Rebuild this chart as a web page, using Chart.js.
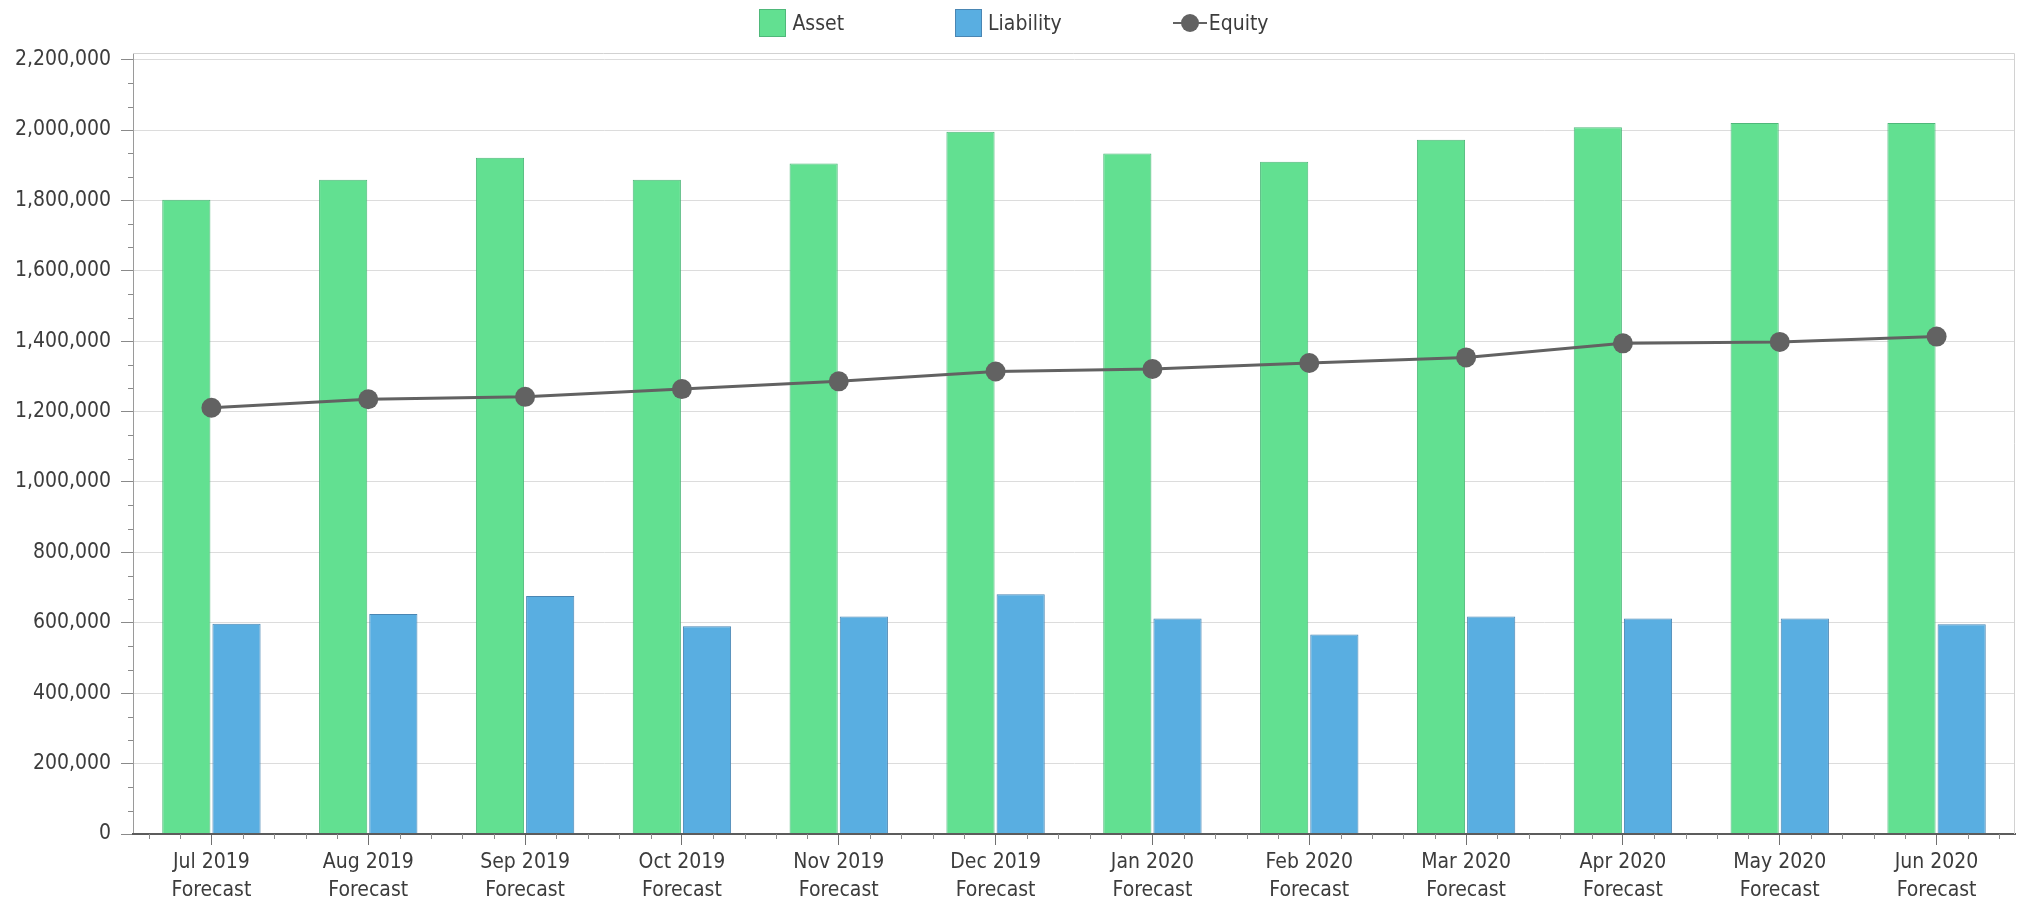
<!DOCTYPE html>
<html>
<head>
<meta charset="utf-8">
<script src="https://cdn.jsdelivr.net/npm/chart.js@4.4.1/dist/chart.umd.min.js"></script>
<style>
  html, body { margin: 0; padding: 0; background: #fff; overflow: hidden; }
  #wrap { position: relative; width: 2020px; height: 906px; }
  #myChart { display: block; }
  #legend {
    position: absolute; top: 9px; left: 8px; right: 0;
    display: flex; justify-content: center; gap: 111px;
    font-family: 'DejaVu Sans Condensed', 'DejaVu Sans', sans-serif;
    font-size: 21px; color: #3c3c3c;
  }
  .item { display: flex; align-items: center; height: 28px; }
  .box { width: 25px; height: 26px; border: 1px solid; margin-right: 6px; }
  .mark { position: relative; width: 34px; height: 28px; margin-right: 2px; }
  .mark .ln { position: absolute; left: 0; right: 0; top: 13px; height: 2px; }
  .mark .dot { position: absolute; left: 8px; top: 5px; width: 18px; height: 18px; border-radius: 50%; }
</style>
</head>
<body>
<div id="wrap">
  <canvas id="myChart" width="2020" height="906"></canvas>
  <div id="legend"></div>
</div>
<script>
var months = ['Jul 2019', 'Aug 2019', 'Sep 2019', 'Oct 2019', 'Nov 2019', 'Dec 2019',
              'Jan 2020', 'Feb 2020', 'Mar 2020', 'Apr 2020', 'May 2020', 'Jun 2020'];
var asset = [1802000, 1859000, 1921000, 1859000, 1905000, 1995000,
             1933000, 1910000, 1972000, 2008000, 2020000, 2020000];
var liability = [597000, 625000, 676000, 590000, 618000, 681000,
                 612000, 567000, 618000, 612000, 612000, 596000];
var equity = [1211000, 1235000, 1242000, 1264000, 1286000, 1314000,
              1321000, 1338000, 1354000, 1394000, 1398000, 1413000];
var yTicks = [0, 200000, 400000, 600000, 800000, 1000000, 1200000,
              1400000, 1600000, 1800000, 2000000, 2200000];

var labels = months.map(m => [m, 'Forecast']);
var fontFamily = "'DejaVu Sans Condensed', 'DejaVu Sans', sans-serif";
var textColor = '#3c3c3c';

// frame on top/right plus the small minor ticks on both axes
var axisExtras = {
    id: 'axisExtras',
    afterDraw(chart) {
        var ctx = chart.ctx, a = chart.chartArea;
        var x = chart.scales.x, y = chart.scales.y;
        ctx.save();
        ctx.lineWidth = 1;
        ctx.strokeStyle = '#d2d2d2';
        ctx.beginPath();
        ctx.moveTo(a.left, a.top + 0.5);
        ctx.lineTo(a.right - 0.5, a.top + 0.5);
        ctx.lineTo(a.right - 0.5, a.bottom);
        ctx.stroke();

        ctx.strokeStyle = '#8a8a8a';
        ctx.beginPath();
        var step = yTicks[1] - yTicks[0];
        for (var i = 0; i < yTicks.length - 1; i++) {
            for (var k = 1; k < 3; k++) {
                var py = Math.round(y.getPixelForValue(yTicks[i] + step * k / 3)) + 0.5;
                ctx.moveTo(a.left - 5, py);
                ctx.lineTo(a.left, py);
            }
        }
        for (var j = -2; j <= 5 * (labels.length - 1) + 2; j++) {
            if (j % 5 === 0) continue;
            var px = Math.round(x.getPixelForValue(j / 5)) + 0.5;
            ctx.moveTo(px, a.bottom);
            ctx.lineTo(px, a.bottom + 5);
        }
        ctx.stroke();
        ctx.restore();
    }
};

var ctx = document.getElementById('myChart').getContext('2d');
var chart = new Chart(ctx, {
    data: {
        labels: labels,
        datasets: [{
            type: 'line',
            label: 'Equity',
            data: equity,
            borderColor: '#626262',
            backgroundColor: '#626262',
            borderWidth: 3,
            pointRadius: 10,
            pointHoverRadius: 10,
            pointBorderWidth: 0,
            tension: 0,
            order: 0
        }, {
            type: 'bar',
            label: 'Asset',
            data: asset,
            backgroundColor: '#62e091',
            borderColor: '#4fb87a',
            borderWidth: 1,
            categoryPercentage: 0.64,
            barPercentage: 0.96,
            order: 1
        }, {
            type: 'bar',
            label: 'Liability',
            data: liability,
            backgroundColor: '#59aee1',
            borderColor: '#4a86b3',
            borderWidth: 1,
            categoryPercentage: 0.64,
            barPercentage: 0.96,
            order: 1
        }]
    },
    options: {
        responsive: false,
        animation: false,
        layout: { autoPadding: false, padding: { top: 53, left: 12, right: 5, bottom: 0 } },
        plugins: {
            legend: { display: false },
            tooltip: { enabled: false }
        },
        scales: {
            x: {
                grid: {
                    offset: false,
                    drawOnChartArea: false,
                    tickLength: 11,
                    tickColor: '#707070'
                },
                border: { color: '#5c5c5c', width: 2, z: 1 },
                ticks: {
                    color: textColor,
                    padding: 4,
                    maxRotation: 0,
                    autoSkip: false,
                    font: { family: fontFamily, size: 21, lineHeight: 1.33 }
                },
                afterFit: s => { s.height = 72; }
            },
            y: {
                min: 0,
                max: 2218750,
                afterBuildTicks: s => { s.ticks = yTicks.map(v => ({ value: v })); },
                grid: {
                    color: '#dcdcdc',
                    tickLength: 12,
                    tickColor: '#8a8a8a'
                },
                border: { color: '#9a9a9a', width: 1 },
                ticks: {
                    color: textColor,
                    padding: 10,
                    font: { family: fontFamily, size: 21 },
                    callback: v => v.toLocaleString('en-US')
                },
                afterFit: s => { s.width = 121; }
            }
        }
    },
    plugins: [axisExtras]
});

// html legend built from the datasets: Asset, Liability, Equity
var legend = document.getElementById('legend');
[1, 2, 0].forEach(i => {
    var ds = chart.data.datasets[i];
    var item = document.createElement('div');
    item.className = 'item';
    if (ds.type === 'bar') {
        var box = document.createElement('span');
        box.className = 'box';
        box.style.background = ds.backgroundColor;
        box.style.borderColor = ds.borderColor;
        item.appendChild(box);
    } else {
        var mark = document.createElement('span');
        mark.className = 'mark';
        mark.innerHTML = '<span class="ln"></span><span class="dot"></span>';
        mark.children[0].style.background = ds.borderColor;
        mark.children[1].style.background = ds.backgroundColor;
        item.appendChild(mark);
    }
    var txt = document.createElement('span');
    txt.textContent = ds.label;
    item.appendChild(txt);
    legend.appendChild(item);
});
</script>
</body>
</html>
